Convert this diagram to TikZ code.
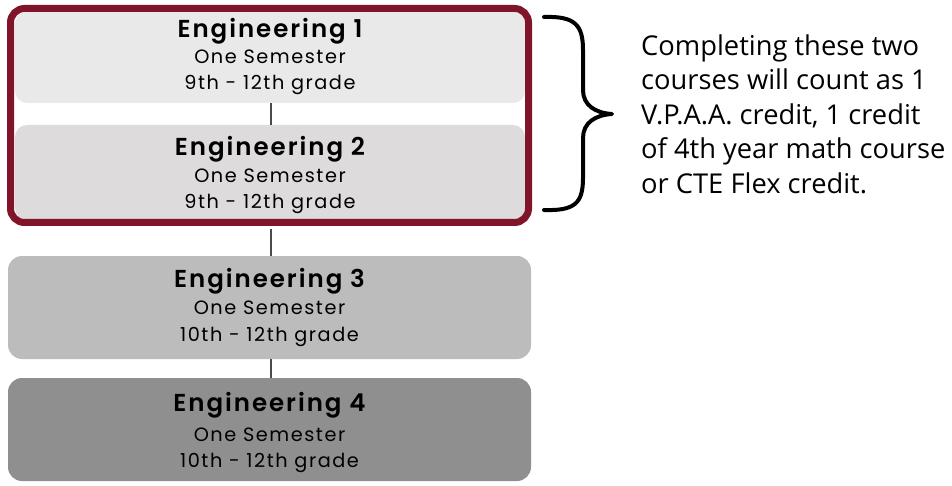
\documentclass[tikz,border=0pt]{standalone}
\usepackage{fontspec}
\setmainfont{Poppins}
\newfontfamily\titlefont[LetterSpace=8]{Poppins SemiBold}
\newfontfamily\bodyfont[LetterSpace=8]{Poppins}
\newfontfamily\notefont{Open Sans}
\definecolor{maroon}{HTML}{801429}
\definecolor{fillA}{HTML}{E8E9E8}
\definecolor{fillB}{HTML}{DDDBDC}
\definecolor{fillC}{HTML}{BBBCBB}
\definecolor{fillD}{HTML}{8F8F8F}
\definecolor{linkgray}{HTML}{4A4A4A}
\newcommand{\ctitle}[1]{{\fontsize{24.5}{24}\titlefont #1}}
\begin{document}
\begin{tikzpicture}[x=1pt,y=-1pt,
  course/.style={rounded corners=12pt, inner sep=0pt},
  coursetext/.style={inner sep=0pt, align=center, text=black,
    font=\fontsize{19.3}{26}\bodyfont},
  link/.style={draw=linkgray, line width=1.6pt}]
\useasboundingbox (0,0) rectangle (952,486);
\fill[white] (0,0) rectangle (952,486);
\node[course, fill=fillA, minimum width=510pt, minimum height=91pt] (e1) at (270,57.5) {};
\node[coursetext] (t1) at ([yshift=1pt]e1.center)
  {\ctitle{Engineering 1}\\[0pt] One Semester\\ 9th - 12th grade};
\node[course, fill=fillB, minimum width=510pt, minimum height=95pt] (e2) at (270,172.5) {};
\node[coursetext] (t2) at ([yshift=-3pt]e2.center)
  {\ctitle{Engineering 2}\\[1pt] One Semester\\ 9th - 12th grade};
\node[draw=maroon, line width=7pt, rounded corners=14pt, minimum width=518pt, minimum height=214pt, inner sep=0pt] (frame) at (269.5,115.5) {};
\node[course, rounded corners=14pt, fill=fillC, minimum width=523pt, minimum height=103pt] (e3) at (269.5,307.5) {};
\node[coursetext] (t3) at (e3.center)
  {\ctitle{Engineering 3}\\[1pt] One Semester\\ 10th - 12th grade};
\node[course, rounded corners=14pt, fill=fillD, minimum width=523pt, minimum height=103pt] (e4) at (269.5,429.5) {};
\node[coursetext] (t4) at ([yshift=-3pt]e4.center)
  {\ctitle{Engineering 4}\\[4pt] One Semester\\ 10th - 12th grade};
\draw[link] (e1.south -| 271,0) -- (e2.north -| 271,0);
\draw[link] ([yshift=-3.5pt]frame.south -| 271,0) -- (e3.north -| 271,0);
\draw[link] (e3.south -| 271,0) -- (e4.north -| 271,0);
% brace
\draw[line width=4pt, line cap=round, line join=round] (544,17)
  .. controls (575,16) and (583,25) .. (583,50)
  -- (583,90)
  .. controls (583,105) and (595,113) .. (612,114)
  .. controls (595,115) and (583,123) .. (583,138)
  -- (583,178)
  .. controls (583,203) and (575,211) .. (544,210);
\node[anchor=west, align=left, inner sep=0pt, font=\fontsize{27.3}{34.5}\notefont] (note) at (641,114)
  {Completing these two\\ courses will count as 1\\ V.P.A.A. credit, 1 credit\\ of 4th year math course\\ or CTE Flex credit.};
\end{tikzpicture}
\end{document}
